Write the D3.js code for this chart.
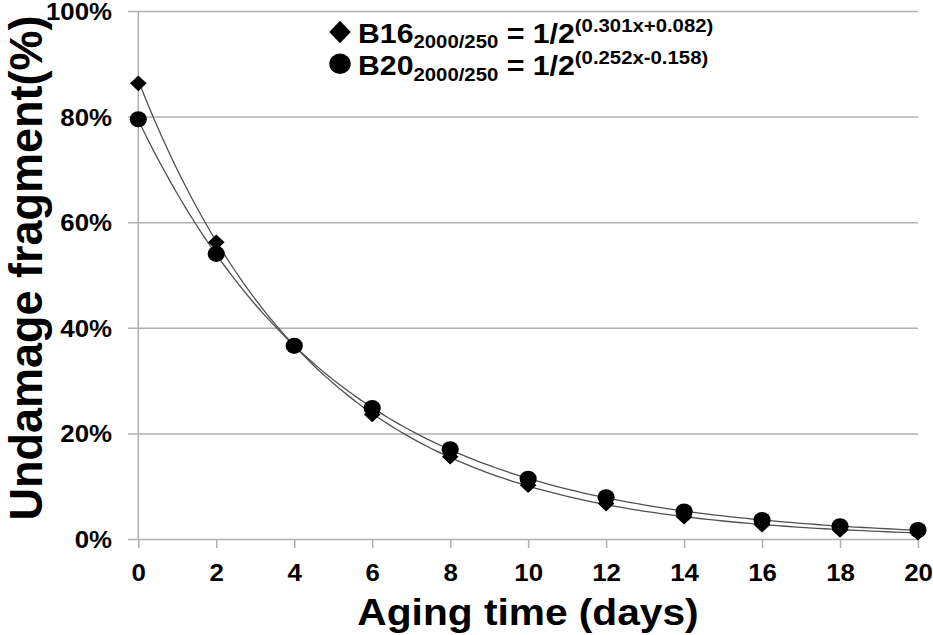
<!DOCTYPE html>
<html>
<head>
<meta charset="utf-8">
<script src="https://cdn.jsdelivr.net/npm/d3@7"></script>
<style>
  html, body { margin: 0; padding: 0; background: #fff; }
  text { font-family: "Liberation Sans", Arial, sans-serif; font-weight: bold; fill: #000; }
</style>
</head>
<body>
<script>
// Data
const days = [0, 2, 4, 6, 8, 10, 12, 14, 16, 18, 20];
const b16 = [86.3, 56.2, 36.5, 23.6, 15.6, 10.2, 6.7, 4.2, 2.7, 1.7, 1.2];
const b20 = [79.5, 54.0, 36.6, 24.8, 17.0, 11.4, 7.9, 5.2, 3.6, 2.4, 1.7];
const yTicks = [0, 20, 40, 60, 80, 100];
const xTicks = [0, 2, 4, 6, 8, 10, 12, 14, 16, 18, 20];

// Dimensions
const width = 933;
const height = 635;
const stretch = 1.1; // the source image is a bit wider than tall in its lettering

const svg = d3.select("body")
    .append("svg")
    .attr("width", width)
    .attr("height", height);

const x = d3.scaleLinear().domain([0, 20]).range([138.3, 918]);
const y = d3.scaleLinear().domain([0, 100]).range([539, 11]);

// Gridlines + y labels
const yAxis = svg.append("g")
    .attr("transform", "translate(128,0)")
    .call(d3.axisLeft(y).tickValues(yTicks).tickSize(-(918 - 128)).tickFormat(d => d + "%"));
yAxis.select(".domain").remove();
yAxis.selectAll(".tick line").attr("stroke", "#b0b0b0").attr("stroke-width", 1.5);
yAxis.selectAll(".tick text")
    .attr("x", 0)
    .attr("dy", null)
    .attr("y", 8.5)
    .attr("transform", `translate(-16,0) scale(${stretch},1)`)
    .attr("font-size", 23.5)
    .attr("font-family", null);

// Vertical axis line
svg.append("line")
    .attr("x1", x(0)).attr("x2", x(0))
    .attr("y1", y(100)).attr("y2", y(0))
    .attr("stroke", "#b0b0b0")
    .attr("stroke-width", 1.5);

// X axis ticks + labels
const xAxis = svg.append("g")
    .attr("transform", `translate(0,${y(0)})`)
    .call(d3.axisBottom(x).tickValues(xTicks).tickSize(9).tickFormat(d3.format("d")));
xAxis.select(".domain").remove();
xAxis.selectAll(".tick line").attr("stroke", "#b0b0b0").attr("stroke-width", 1.5);
xAxis.selectAll(".tick text")
    .attr("y", 0)
    .attr("dy", null)
    .attr("transform", `translate(0,41.5) scale(${stretch},1)`)
    .attr("font-size", 23.5)
    .attr("font-family", null);

// Exponential trendline (least squares on ln y)
function expFit(xs, ys) {
    const ls = ys.map(v => Math.log(v));
    const mx = d3.mean(xs), ml = d3.mean(ls);
    const b = d3.sum(xs, (v, i) => (v - mx) * (ls[i] - ml)) / d3.sum(xs, v => (v - mx) * (v - mx));
    const a = ml - b * mx;
    return t => Math.exp(a + b * t);
}

const samples = d3.range(0, 20.001, 0.2);
const line = d3.line().x(d => x(d[0])).y(d => y(d[1])).curve(d3.curveMonotoneX);

[b16, b20].forEach(series => {
    const f = expFit(days, series);
    svg.append("path")
        .datum(samples.map(t => [t, f(t)]))
        .attr("fill", "none")
        .attr("stroke", "#505050")
        .attr("stroke-width", 1.3)
        .attr("d", line);
});

// Markers
function diamond(hw, hh) {
    return `M0,${-hh}L${hw},0L0,${hh}L${-hw},0Z`;
}

svg.append("g")
    .selectAll("path")
    .data(days)
    .join("path")
    .attr("d", diamond(8.3, 7.8))
    .attr("transform", (d, i) => `translate(${x(d)},${y(b16[i])})`)
    .attr("fill", "#000");

svg.append("g")
    .selectAll("ellipse")
    .data(days)
    .join("ellipse")
    .attr("cx", d => x(d))
    .attr("cy", (d, i) => y(b20[i]))
    .attr("rx", 8.6)
    .attr("ry", 8.1)
    .attr("fill", "#000");

// Legend
const legendRows = [
    { label: "B16", sub: "2000/250", sup: "(0.301x+0.082)", kind: "diamond", cy: 32, base: 42.7 },
    { label: "B20", sub: "2000/250", sup: "(0.252x-0.158)", kind: "circle", cy: 63.7, base: 75 }
];

legendRows.forEach(r => {
    if (r.kind === "diamond") {
        svg.append("path")
            .attr("d", diamond(10.7, 11.2))
            .attr("transform", `translate(340,${r.cy})`)
            .attr("fill", "#000");
    } else {
        svg.append("ellipse")
            .attr("cx", 340).attr("cy", r.cy)
            .attr("rx", 10.7).attr("ry", 10.3)
            .attr("fill", "#000");
    }
    const t = svg.append("text")
        .attr("transform", `translate(358,${r.base}) scale(${stretch},1)`)
        .attr("font-size", 27.5);
    t.append("tspan").text(r.label);
    t.append("tspan").attr("font-size", 18.5).attr("dy", 5.6).text(r.sub);
    t.append("tspan").attr("dy", -5.6).text(" = 1/2");
    t.append("tspan").attr("font-size", 18.5).attr("dy", -11).text(r.sup);
});

// Axis titles
svg.append("text")
    .attr("transform", `translate(528,624.5) scale(${stretch},1)`)
    .attr("text-anchor", "middle")
    .attr("font-size", 37)
    .text("Aging time (days)");

svg.append("text")
    .attr("transform", "translate(42,268) scale(1.02,1) rotate(-90)")
    .attr("text-anchor", "middle")
    .attr("font-size", 45)
    .text("Undamage fragment(%)");
</script>
</body>
</html>
